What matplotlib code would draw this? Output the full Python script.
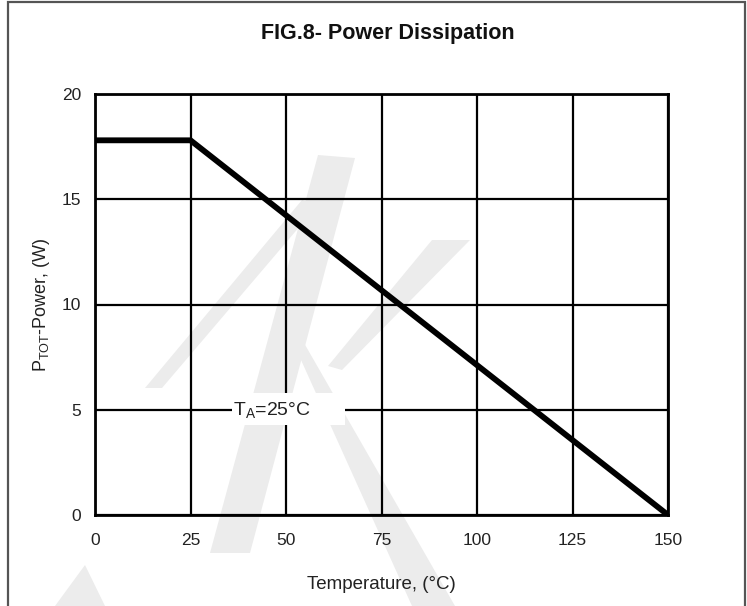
import matplotlib
matplotlib.use('Agg')
import matplotlib.pyplot as plt
from matplotlib.patches import Polygon, Rectangle

plt.rcParams['font.family'] = ['Liberation Sans', 'DejaVu Sans']
plt.rcParams['mathtext.fontset'] = 'custom'
plt.rcParams['mathtext.rm'] = 'Liberation Sans'
plt.rcParams['mathtext.it'] = 'Liberation Sans'

# derating curve
temp_c = [0, 25, 150]
power_w = [17.8, 17.8, 0]

x_ticks = [0, 25, 50, 75, 100, 125, 150]
y_ticks = [0, 5, 10, 15, 20]

W, H = 747, 606
fig = plt.figure(figsize=(W / 100, H / 100), dpi=100)
fig.patch.set_facecolor('white')


def px(pts):
    # pixel coords (origin top-left) -> figure fraction
    return [(x / W, 1 - y / H) for x, y in pts]


# faint background logo strokes
logo = [
    [(145, 388), (162, 388), (318, 205), (302, 200)],
    [(210, 553), (250, 553), (355, 158), (318, 155)],
    [(292, 340), (300, 336), (455, 606), (412, 606)],
    [(432, 240), (470, 240), (342, 370), (328, 366)],
    [(55, 606), (85, 565), (105, 606)],
]
for shape in logo:
    fig.patches.append(Polygon(px(shape), closed=True, transform=fig.transFigure,
                               facecolor='#ececec', edgecolor='none', zorder=-2))

# outer frame
fig.patches.append(Rectangle((8 / W, -0.05), (745 - 8) / W, 1.05 - 2 / H,
                             transform=fig.transFigure, facecolor='none',
                             edgecolor='#555555', linewidth=1.6, zorder=-1))

ax = fig.add_axes([95 / W, 1 - 515 / H, (668 - 95) / W, (515 - 94) / H])
ax.set_facecolor('none')
ax.set_zorder(1)

ax.plot(temp_c, power_w, color='black', linewidth=4.2, solid_capstyle='butt',
        solid_joinstyle='miter', zorder=4)

ax.set_xlim(0, 150)
ax.set_ylim(0, 20)
ax.set_xticks(x_ticks)
ax.set_yticks(y_ticks)
ax.tick_params(axis='both', length=0, labelsize=12.5, colors='#222222')
ax.tick_params(axis='x', pad=13)
ax.tick_params(axis='y', pad=10)
ax.grid(True, color='black', linewidth=1.6)
for sp in ax.spines.values():
    sp.set_linewidth(2.0)
    sp.set_color('black')

# ambient temperature label sitting on the grid
ax.add_patch(Rectangle((35.9, 4.28), 29.5, 1.52, facecolor='white',
                       edgecolor='none', zorder=3))
ax.text(36.2, 5.0, r'T$_{\mathrm{A}}$=25°C', fontsize=14, ha='left', va='center',
        color='#222222', zorder=5)

ax.set_xlabel('Temperature, (°C)', fontsize=13.5, labelpad=20, color='#222222')
ax.set_ylabel(r'P$_{\mathrm{TOT}}$-Power, (W)', fontsize=13, labelpad=7,
              color='#222222')

fig.text(388 / W, 1 - 33 / H, 'FIG.8- Power Dissipation', fontsize=15.5,
         fontweight='bold', ha='center', va='center', color='#111111')

fig.savefig('out.png', dpi=100)
